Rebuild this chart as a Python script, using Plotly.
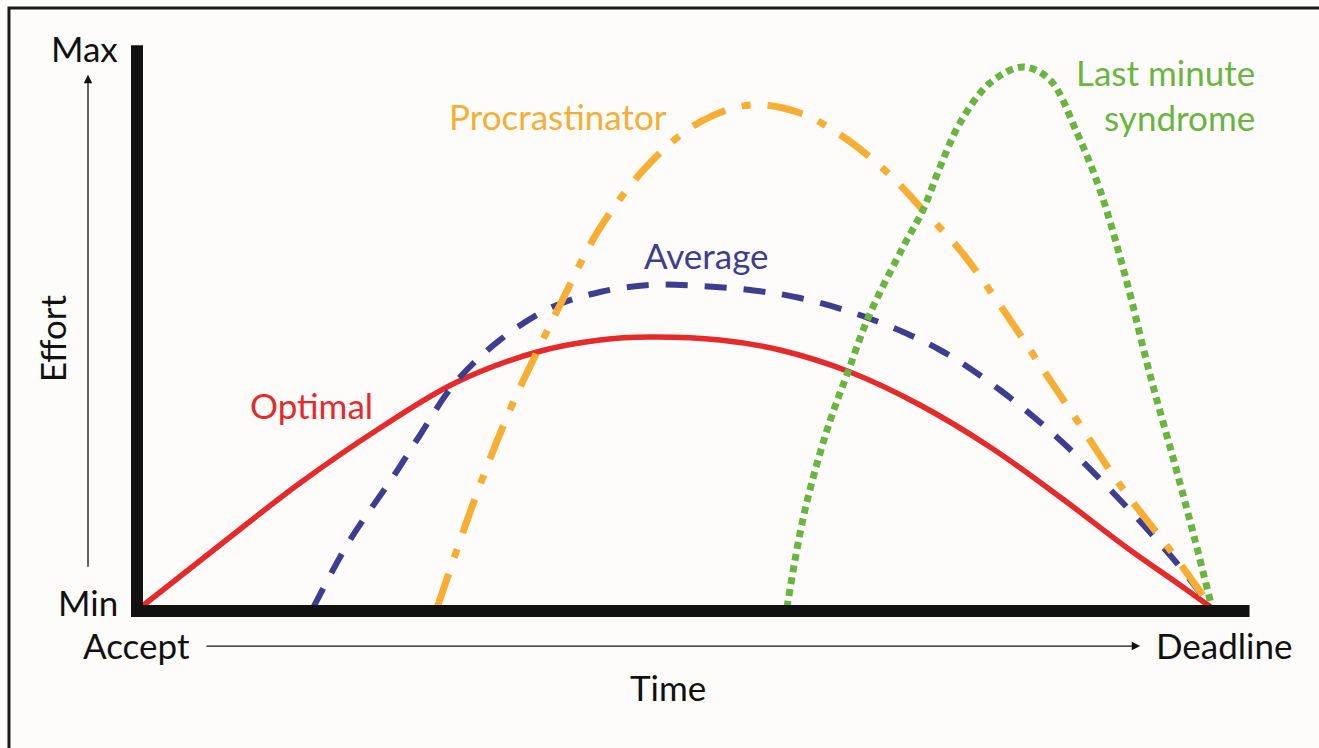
import plotly.graph_objects as go

# Time (0 = Accept, 100 = Deadline), Effort (0 = Min, 100 = Max)
optimal_t = [0, 7.46, 14.93, 22.39, 29.38, 37.03, 42.91, 47.57, 54.10, 59.70, 66.23, 72.76, 79.29, 85.82, 92.35, 97.01, 100]
optimal_e = [0, 11.25, 22.32, 32.14, 40.18, 45.71, 47.86, 48.39, 47.86, 46.07, 42.14, 36.25, 28.75, 19.82, 10.36, 4.11, 0]

average_t = [16.14, 19.59, 23.60, 26.12, 29.38, 33.58, 38.25, 42.91, 47.57, 52.24, 56.90, 61.57, 67.91, 74.63, 80.22, 85.82, 91.42, 96.08, 100]
average_e = [0, 12.14, 23.39, 30.89, 40.18, 47.86, 53.57, 56.43, 57.68, 57.50, 56.79, 55.36, 51.79, 46.07, 38.93, 30.00, 19.29, 9.46, 0]

procr_t = [27.71, 31.44, 34.51, 37.03, 39.18, 42.91, 47.57, 52.24, 56.90, 61.57, 65.76, 69.96, 73.04, 76.49, 80.22, 83.96, 87.69, 91.42, 96.08, 100]
procr_e = [0, 20.54, 35.36, 45.71, 54.11, 67.86, 79.46, 86.79, 89.82, 88.39, 83.93, 77.32, 71.07, 63.93, 54.11, 43.39, 32.68, 21.96, 10.36, 0]

lastmin_t = [60.35, 61.10, 62.03, 63.25, 64.55, 66.04, 67.91, 71.18, 73.04, 74.63, 76.49, 79.29, 82.37, 84.89, 87.41, 89.55, 91.88, 94.22, 96.55, 98.41, 100]
lastmin_e = [0, 8.57, 17.5, 26.43, 34.46, 42.14, 51.79, 64.46, 71.07, 78.75, 86.61, 93.75, 96.61, 94.29, 84.82, 74.64, 59.46, 41.61, 25.54, 12.14, 0]

series_names = ["Optimal", "Average", "Procrastinator", "Last minute syndrome"]

RED = "#E52A2B"
BLUE = "#3D3E8F"
ORANGE = "#F6AE34"
GREEN = "#69B540"
FONT = "Lato"

fig = go.Figure()
fig.add_trace(go.Scatter(x=optimal_t, y=optimal_e, mode="lines", name=series_names[0],
                         line=dict(color=RED, width=5.5, shape="spline")))
fig.add_trace(go.Scatter(x=average_t, y=average_e, mode="lines", name=series_names[1],
                         line=dict(color=BLUE, width=6, shape="spline", dash="22px,17px")))
fig.add_trace(go.Scatter(x=procr_t, y=procr_e, mode="lines", name=series_names[2],
                         line=dict(color=ORANGE, width=7, shape="spline", dash="36px,17px,9px,17px")))
fig.add_trace(go.Scatter(x=lastmin_t, y=lastmin_e, mode="lines", name=series_names[3],
                         line=dict(color=GREEN, width=7, shape="spline", dash="7px,5px")))

shapes = [
    # thick axes
    dict(type="line", xref="x", yref="y", x0=-0.28, x1=-0.28, y0=100.5, y1=-1.6,
         line=dict(color="#111111", width=12), layer="above"),
    dict(type="line", xref="x", yref="y", x0=-0.84, x1=103.5, y0=-0.54, y1=-0.54,
         line=dict(color="#111111", width=12), layer="above"),
    # outer frame (top and left) drawn as one open path
    dict(type="path", xref="paper", yref="paper",
         path="M 0.0068,0 L 0.0068,0.9893 L 1,0.9893",
         line=dict(color="#1a1a1a", width=3)),
]

fs = 35
ann = [
    dict(x=-1.9, y=100, text="Max", xanchor="right", yanchor="middle", font=dict(color="#111", size=fs)),
    dict(x=-1.9, y=1.0, text="Min", xanchor="right", yanchor="middle", font=dict(color="#111", size=fs)),
    dict(x=-0.3, y=-6.6, text="Accept", xanchor="center", yanchor="middle", font=dict(color="#111", size=fs)),
    dict(x=101.2, y=-6.6, text="Deadline", xanchor="center", yanchor="middle", font=dict(color="#111", size=fs)),
    dict(x=49.25, y=-14.1, text="Time", xanchor="center", yanchor="middle", font=dict(color="#111", size=fs)),
    dict(x=-8.2, y=48.2, text="Effort", textangle=-90, xanchor="center", yanchor="middle", font=dict(color="#111", size=fs)),
    dict(x=16.0, y=36.2, text=series_names[0], xanchor="center", yanchor="middle", font=dict(color=RED, size=fs)),
    dict(x=52.8, y=63.0, text=series_names[1], xanchor="center", yanchor="middle", font=dict(color=BLUE, size=fs)),
    dict(x=39.0, y=87.9, text=series_names[2], xanchor="center", yanchor="middle", font=dict(color=ORANGE, size=fs)),
    dict(x=104.2, y=95.7, text="Last minute", xanchor="right", yanchor="middle", font=dict(color=GREEN, size=fs)),
    dict(x=104.2, y=87.7, text="syndrome", xanchor="right", yanchor="middle", font=dict(color=GREEN, size=fs)),
]
for a in ann:
    a.update(xref="x", yref="y", showarrow=False)

# thin arrows
ann.append(dict(x=-4.85, y=95.2, ax=-4.85, ay=7.1, xref="x", yref="y", axref="x", ayref="y",
                text="", showarrow=True, arrowhead=2, arrowsize=1.3, arrowwidth=1.3, arrowcolor="#111"))
ann.append(dict(x=93.3, y=-6.8, ax=6.06, ay=-6.8, xref="x", yref="y", axref="x", ayref="y",
                text="", showarrow=True, arrowhead=2, arrowsize=1.3, arrowwidth=1.3, arrowcolor="#111"))

fig.update_layout(
    width=1319, height=748,
    margin=dict(l=0, r=0, t=0, b=0),
    paper_bgcolor="#FDFCFA", plot_bgcolor="#FDFCFA",
    showlegend=False,
    font=dict(family=FONT, color="#111"),
    shapes=shapes, annotations=ann,
    xaxis=dict(range=[-13.06, 109.98], visible=False, fixedrange=True),
    yaxis=dict(range=[-25.0, 108.57], visible=False, fixedrange=True),
)

fig.write_html("out.html", config={"displayModeBar": False},
               post_script="document.body.style.margin='0';document.body.style.overflow='hidden';document.documentElement.style.overflow='hidden';")
